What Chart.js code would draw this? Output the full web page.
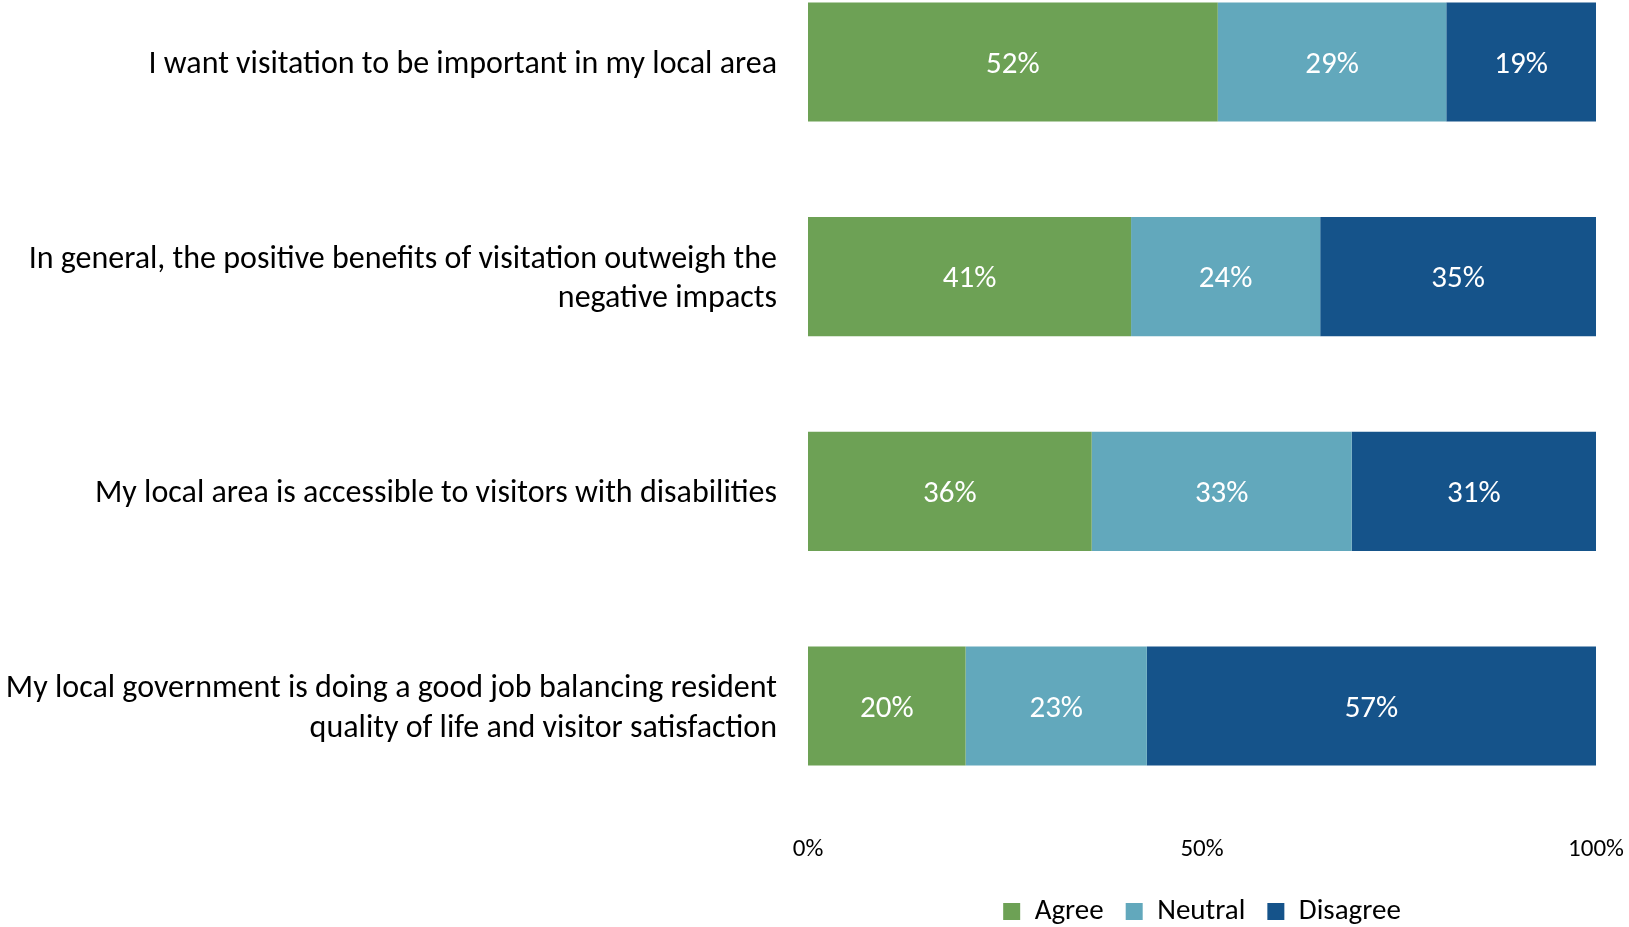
<!DOCTYPE html>
<html>
<head>
<meta charset="utf-8">
<script src="https://cdn.jsdelivr.net/npm/chart.js@4/dist/chart.umd.min.js"></script>
<style>
  html, body { margin: 0; padding: 0; background: #fff; }
  #wrap { width: 1629px; height: 927px; position: relative; }
</style>
</head>
<body>
<div id="wrap"><canvas id="attitudeChart"></canvas></div>
<script>
// Resident attitudes towards visitation (share of respondents)
const statements = [
  'I want visitation to be important in my local area',
  ['In general, the positive benefits of visitation outweigh the', 'negative impacts'],
  'My local area is accessible to visitors with disabilities',
  ['My local government is doing a good job balancing resident', 'quality of life and visitor satisfaction']
];
const agree = [52, 41, 36, 20];
const neutral = [29, 24, 33, 23];
const disagree = [19, 35, 31, 57];
const xTicks = [0, 50, 100];

const FONT = "Carlito, Lato, 'Open Sans', sans-serif";

// writes each segment's value in the middle of the bar
const barValues = {
  id: 'barValues',
  afterDatasetsDraw(chart) {
    const ctx = chart.ctx;
    ctx.save();
    ctx.fillStyle = '#fff';
    ctx.font = '31px ' + FONT;
    ctx.textAlign = 'center';
    ctx.textBaseline = 'middle';
    chart.data.datasets.forEach((ds, i) => {
      chart.getDatasetMeta(i).data.forEach((bar, j) => {
        const p = bar.getProps(['x', 'y', 'base'], true);
        ctx.fillText(ds.data[j] + '%', (p.x + p.base) / 2, p.y + 3);
      });
    });
    ctx.restore();
  }
};

const ctx = document.getElementById('attitudeChart').getContext('2d');
new Chart(ctx, {
  type: 'bar',
  data: {
    labels: statements,
    datasets: [
      { label: 'Agree', data: agree, backgroundColor: '#6DA155' },
      { label: 'Neutral', data: neutral, backgroundColor: '#62A8BC' },
      { label: 'Disagree', data: disagree, backgroundColor: '#15538A' }
    ]
  },
  options: {
    indexAxis: 'y',
    responsive: true,
    maintainAspectRatio: false,
    animation: false,
    datasets: { bar: { categoryPercentage: 1, barPercentage: 0.555, clip: false } },
    layout: { padding: { top: 62, right: 33, left: 0, bottom: -9 } },
    plugins: {
      tooltip: { enabled: false },
      legend: {
        position: 'bottom',
        fullSize: false,
        labels: {
          color: '#000',
          font: { family: FONT, size: 29 },
          boxWidth: 17,
          boxHeight: 17,
          padding: 22
        }
      }
    },
    scales: {
      x: {
        stacked: true,
        min: 0,
        max: 100,
        afterBuildTicks: s => { s.ticks = xTicks.map(v => ({ value: v })); },
        grid: { display: false, drawTicks: true, tickLength: 125 },
        border: { display: false },
        ticks: {
          color: '#000',
          font: { family: FONT, size: 25 },
          padding: 4,
          maxRotation: 0,
          callback: v => v + '%'
        },
        afterFit: s => { s.height = 169; s.paddingLeft = 0; s.paddingRight = 0; }
      },
      y: {
        stacked: true,
        offset: false,
        grid: { display: false, drawTicks: false },
        border: { display: false },
        ticks: {
          color: '#000',
          font: { family: FONT, size: 32, lineHeight: 1.23 },
          padding: 31,
          labelOffset: 3
        },
        afterFit: s => { s.width = 808; s.paddingTop = 0; s.paddingBottom = 0; }
      }
    }
  },
  plugins: [barValues]
});
</script>
</body>
</html>
